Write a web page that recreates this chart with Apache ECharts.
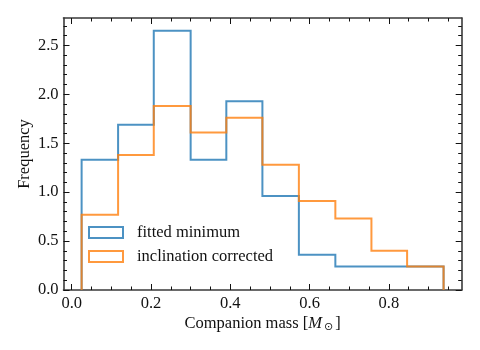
<!DOCTYPE html>
<html>
<head>
<meta charset="utf-8">
<script src="https://cdn.jsdelivr.net/npm/echarts@6/dist/echarts.min.js"></script>
<style>html,body{margin:0;padding:0;background:#fff}#c{width:480px;height:350px}</style>
</head>
<body>
<div id="c"></div>
<script>
// Data
const binEdges = [0.025, 0.117, 0.207, 0.300, 0.390, 0.481, 0.573, 0.665, 0.756, 0.846, 0.938];
const fittedMinimum = [1.33, 1.69, 2.65, 1.33, 1.93, 0.96, 0.36, 0.24, 0.24, 0.24];
const inclinationCorrected = [0.77, 1.38, 1.88, 1.61, 1.76, 1.28, 0.91, 0.73, 0.40, 0.24];
const seriesNames = ['fitted minimum', 'inclination corrected'];
const xTicks = [0.0, 0.2, 0.4, 0.6, 0.8];
const yTicks = [0.0, 0.5, 1.0, 1.5, 2.0, 2.5];
const xMinorStep = 0.05;
const yMinorStep = 0.1;

const X_MIN = -0.0207, X_MAX = 0.9837, Y_MIN = 0, Y_MAX = 2.78;
const FONT = '"Liberation Serif", "DejaVu Serif", serif';
const FS = 16.5;
const AX = '#3a3a3a';
const BLUE = '#1f77b4', ORANGE = '#ff7f0e';

function minorTicks(majors, step, lo, hi) {
  const out = [];
  const start = Math.ceil(lo / step - 1e-9);
  for (let k = start; k * step <= hi + 1e-9; k++) {
    const v = +(k * step).toFixed(6);
    if (!majors.some(m => Math.abs(m - v) < 1e-6)) out.push(v);
  }
  return out;
}
const xMinor = minorTicks(xTicks, xMinorStep, X_MIN, X_MAX);
const yMinor = minorTicks(yTicks, yMinorStep, Y_MIN, Y_MAX);

function stepPoints(edges, vals) {
  const pts = [[edges[0], 0]];
  for (let i = 0; i < vals.length; i++) {
    pts.push([edges[i], vals[i]]);
    pts.push([edges[i + 1], vals[i]]);
  }
  pts.push([edges[edges.length - 1], 0]);
  return pts;
}

function xAxisDef(pos, major, showLine, showLabel) {
  return {
    type: 'value', position: pos, min: X_MIN, max: X_MAX, gridIndex: 0,
    axisLine: { show: showLine, onZero: false, lineStyle: { color: AX, width: 1.6 } },
    axisTick: { show: true, inside: true, length: major ? 6 : 3.5,
      customValues: major ? xTicks : xMinor, lineStyle: { color: '#111', width: 1 } },
    axisLabel: showLabel ? { show: true, customValues: xTicks, margin: 5,
      formatter: v => v.toFixed(1), fontFamily: FONT, fontSize: FS, color: '#111' } : { show: false },
    splitLine: { show: false }
  };
}
function yAxisDef(pos, major, showLine, showLabel) {
  return {
    type: 'value', position: pos, min: Y_MIN, max: Y_MAX, gridIndex: 0,
    axisLine: { show: showLine, onZero: false, lineStyle: { color: AX, width: 1.6 } },
    axisTick: { show: true, inside: true, length: major ? 6 : 3.5,
      customValues: major ? yTicks : yMinor, lineStyle: { color: '#111', width: 1 } },
    axisLabel: showLabel ? { show: true, customValues: yTicks, margin: 5,
      formatter: v => v.toFixed(1), fontFamily: FONT, fontSize: FS, color: '#111' } : { show: false },
    splitLine: { show: false }
  };
}

const xMain = xAxisDef('bottom', true, true, true);
xMain.name = 'Companion mass [{i|M}{s|⊙}]';
xMain.nameLocation = 'middle';
xMain.nameGap = 24;
xMain.nameMoveOverlap = false;
xMain.nameTextStyle = { fontFamily: FONT, fontSize: FS, color: '#111',
  rich: { i: { fontFamily: FONT, fontSize: FS, fontStyle: 'italic', color: '#111' },
          s: { fontFamily: '"DejaVu Sans", sans-serif', fontSize: 11, color: '#111', verticalAlign: 'bottom', padding: [8, 2, 0, 2] } } };

const yMain = yAxisDef('left', true, true, true);
yMain.name = 'Frequency';
yMain.nameLocation = 'middle';
yMain.nameGap = 30;
yMain.nameMoveOverlap = false;
yMain.nameTextStyle = { fontFamily: FONT, fontSize: FS, color: '#111' };

const chart = echarts.init(document.getElementById('c'), null, { renderer: 'canvas' });
chart.setOption({
  animation: false,
  backgroundColor: '#fff',
  grid: { left: 63.5, top: 18, right: 18.3, bottom: 60, containLabel: false },
  xAxis: [xMain, xAxisDef('bottom', false, false, false), xAxisDef('top', true, true, false), xAxisDef('top', false, false, false)],
  yAxis: [yMain, yAxisDef('left', false, false, false), yAxisDef('right', true, true, false), yAxisDef('right', false, false, false)],
  legend: {
    orient: 'vertical', left: 88, top: 223, itemGap: 5, padding: 0,
    itemWidth: 34, itemHeight: 11, icon: 'rect', selectedMode: false,
    textStyle: { fontFamily: FONT, fontSize: FS, color: '#111', lineHeight: 19, padding: [0, 0, 0, 9] },
    data: [
      { name: seriesNames[0], itemStyle: { color: 'rgba(0,0,0,0)', borderColor: 'rgba(31,119,180,0.8)', borderWidth: 2 } },
      { name: seriesNames[1], itemStyle: { color: 'rgba(0,0,0,0)', borderColor: 'rgba(255,127,14,0.8)', borderWidth: 2 } }
    ]
  },
  series: [
    { name: seriesNames[0], type: 'line', xAxisIndex: 0, yAxisIndex: 0,
      data: stepPoints(binEdges, fittedMinimum), showSymbol: false, symbol: 'none',
      lineStyle: { color: BLUE, width: 2, opacity: 0.8, join: 'miter' }, itemStyle: { color: BLUE } },
    { name: seriesNames[1], type: 'line', xAxisIndex: 0, yAxisIndex: 0,
      data: stepPoints(binEdges, inclinationCorrected), showSymbol: false, symbol: 'none',
      lineStyle: { color: ORANGE, width: 2, opacity: 0.8, join: 'miter' }, itemStyle: { color: ORANGE } }
  ]
});
</script>
</body>
</html>
